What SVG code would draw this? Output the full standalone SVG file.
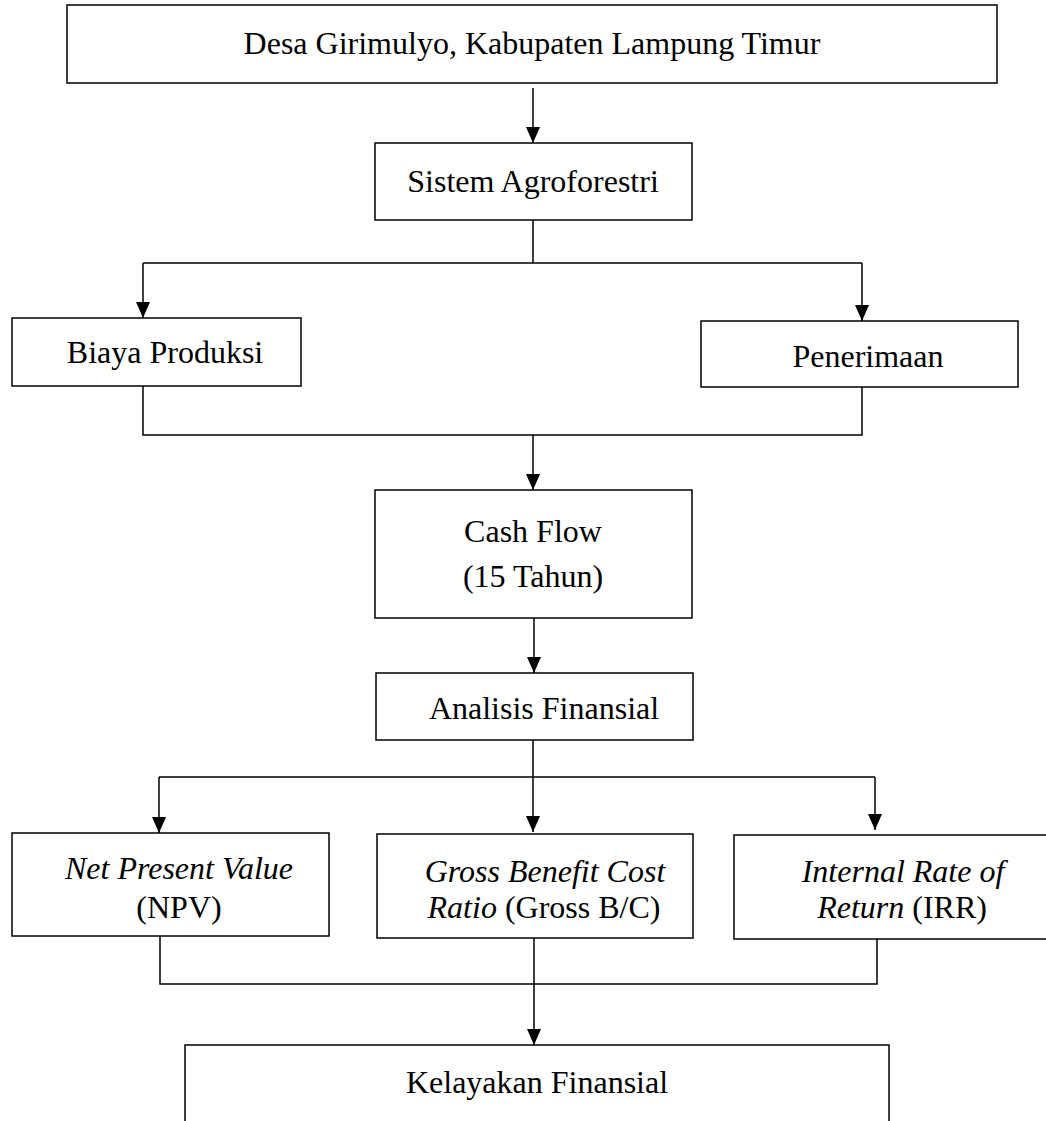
<svg xmlns="http://www.w3.org/2000/svg" width="1046" height="1121" viewBox="0 0 1046 1121">
<style>
.box{fill:#fff;stroke:#000;stroke-width:1.5}
.t{font-family:"Liberation Serif","Times New Roman",serif;font-size:32px;fill:#000;text-anchor:middle}
.i{font-style:italic}
.c{fill:none;stroke:#000;stroke-width:1.5}
.a{fill:none;stroke:#000;stroke-width:1.5;marker-end:url(#ah)}
</style>
<defs>
<marker id="ah" markerUnits="userSpaceOnUse" markerWidth="16" markerHeight="14" refX="16" refY="7" orient="auto" viewBox="0 0 16 14">
<path d="M0,0 L16,7 L0,14 Z" fill="#000"/>
</marker>
</defs>
<rect width="1046" height="1121" fill="#fff"/>
<g id="connectors">
<path class="a" d="M533,88 V143"/>
<path class="c" d="M533,220 V263 M143,263 H862"/>
<path class="a" d="M143,263 V318"/>
<path class="a" d="M862,263 V321"/>
<path class="c" d="M143,386 V435 H862 V387"/>
<path class="a" d="M533,435 V490"/>
<path class="a" d="M534,618 V673"/>
<path class="c" d="M533,740 V777 M159,777 H875"/>
<path class="a" d="M159,777 V833"/>
<path class="a" d="M533,777 V832"/>
<path class="a" d="M875,777 V830"/>
<path class="c" d="M160,936 V984 H877 V939"/>
<path class="a" d="M534,938 V1045"/>
</g>
<g id="n1"><rect class="box" x="67" y="5" width="930" height="78"/><text class="t" x="532" y="54">Desa Girimulyo, Kabupaten Lampung Timur</text></g>
<g id="n2"><rect class="box" x="375" y="143" width="317" height="77"/><text class="t" x="533" y="192">Sistem Agroforestri</text></g>
<g id="n3"><rect class="box" x="12" y="318" width="289" height="68"/><text class="t" x="165" y="363">Biaya Produksi</text></g>
<g id="n4"><rect class="box" x="701" y="321" width="317" height="66"/><text class="t" x="868" y="367">Penerimaan</text></g>
<g id="n5"><rect class="box" x="375" y="490" width="317" height="128"/><text class="t" x="533" y="542">Cash Flow</text><text class="t" x="533" y="587">(15 Tahun)</text></g>
<g id="n6"><rect class="box" x="376" y="673" width="317" height="67"/><text class="t" x="544" y="719">Analisis Finansial</text></g>
<g id="n7"><rect class="box" x="12" y="833" width="317" height="103"/><text class="t" x="179" y="879"><tspan class="i">Net Present Value</tspan></text><text class="t" x="179" y="918">(NPV)</text></g>
<g id="n8"><rect class="box" x="377" y="834" width="316" height="104"/><text class="t" x="545" y="882"><tspan class="i">Gross Benefit Cost</tspan></text><text class="t" x="544" y="918"><tspan class="i">Ratio</tspan> (Gross B/C)</text></g>
<g id="n9"><rect class="box" x="734" y="835" width="320" height="104"/><text class="t" x="903" y="882"><tspan class="i">Internal Rate of</tspan></text><text class="t" x="902" y="918"><tspan class="i">Return</tspan> (IRR)</text></g>
<g id="n10"><rect class="box" x="185" y="1045" width="704" height="100"/><text class="t" x="537" y="1093">Kelayakan Finansial</text></g>
</svg>
